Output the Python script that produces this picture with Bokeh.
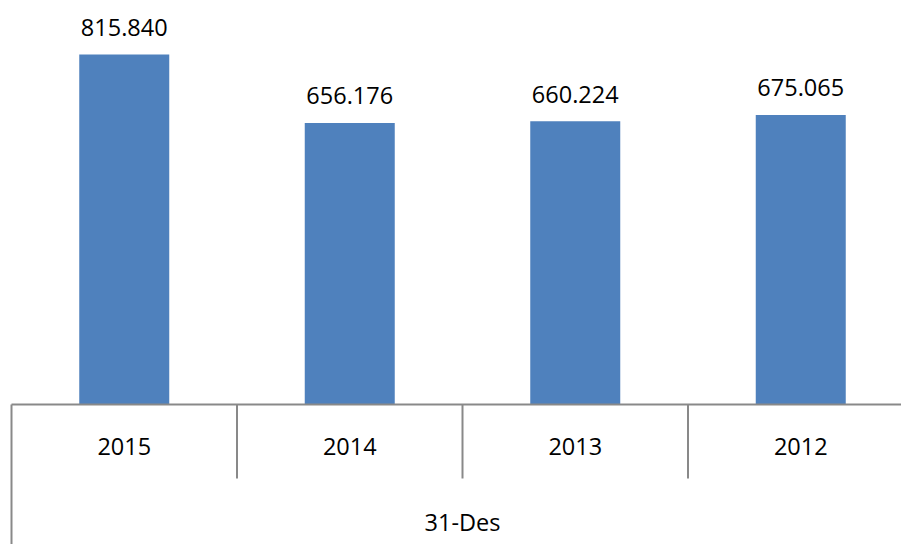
from bokeh.plotting import figure
from bokeh.models import Range1d, ColumnDataSource
from bokeh.core.properties import value
from bokeh.embed import file_html
from bokeh.resources import INLINE

years = ["2015", "2014", "2013", "2012"]
values = [815.840, 656.176, 660.224, 675.065]
value_labels = ["815.840", "656.176", "660.224", "675.065"]
group_label = "31-Des"

W, H = 901, 544
cat_px = 225.5          # pixel width of one category
left_px = 11.0          # frame x of the first category boundary
base_px = 404.0         # frame y of the baseline, from the top
ppu = 350.0 / max(values)  # pixels per value unit

x_start = -0.5 - left_px / cat_px
x_end = x_start + W / cat_px
y_end = base_px / ppu
y_start = -(H - base_px) / ppu

p = figure(width=W, height=H, output_backend="svg", toolbar_location=None,
           x_range=Range1d(x_start, x_end), y_range=Range1d(y_start, y_end),
           min_border=0, min_border_left=0, min_border_right=0,
           min_border_top=0, min_border_bottom=0)
p.xaxis.visible = False
p.yaxis.visible = False
p.grid.visible = False
p.outline_line_color = None
p.background_fill_color = "white"
p.border_fill_color = "white"

idx = list(range(len(years)))
src = ColumnDataSource(dict(x=idx, top=values, lab=value_labels, yr=years,
                            ylab=[v + 27 / ppu for v in values],
                            ycat=[-42 / ppu] * len(years)))

p.vbar(x="x", top="top", bottom=0, width=90 / cat_px, source=src,
       fill_color="#4F81BD", line_color=None)

font = value("Open Sans")
p.text(x="x", y="ylab", text="lab", source=src, text_font=font,
       text_font_size="23.5px", text_align="center",
       text_baseline="alphabetic", text_color="black")
p.text(x="x", y="ycat", text="yr", source=src, text_font=font,
       text_font_size="23.5px", text_align="center",
       text_baseline="alphabetic", text_color="black")

n = len(years)
mid = (n - 1) / 2
p.text(x=[mid], y=[-117 / ppu], text=[group_label], text_font=font,
       text_font_size="23.5px", text_align="center",
       text_baseline="alphabetic", text_color="black")

axis_col = "#898989"
# baseline
p.segment(x0=[-0.5], y0=[0], x1=[x_end], y1=[0], line_color=axis_col, line_width=2)
# outer left line
p.segment(x0=[-0.5], y0=[0], x1=[-0.5], y1=[y_start], line_color=axis_col, line_width=2)
# category separators
seps = [i + 0.5 for i in range(n)]
p.segment(x0=seps, y0=[0] * n, x1=seps, y1=[-74 / ppu] * n,
          line_color=axis_col, line_width=2)

open("out.html", "w").write(file_html(p, INLINE))
